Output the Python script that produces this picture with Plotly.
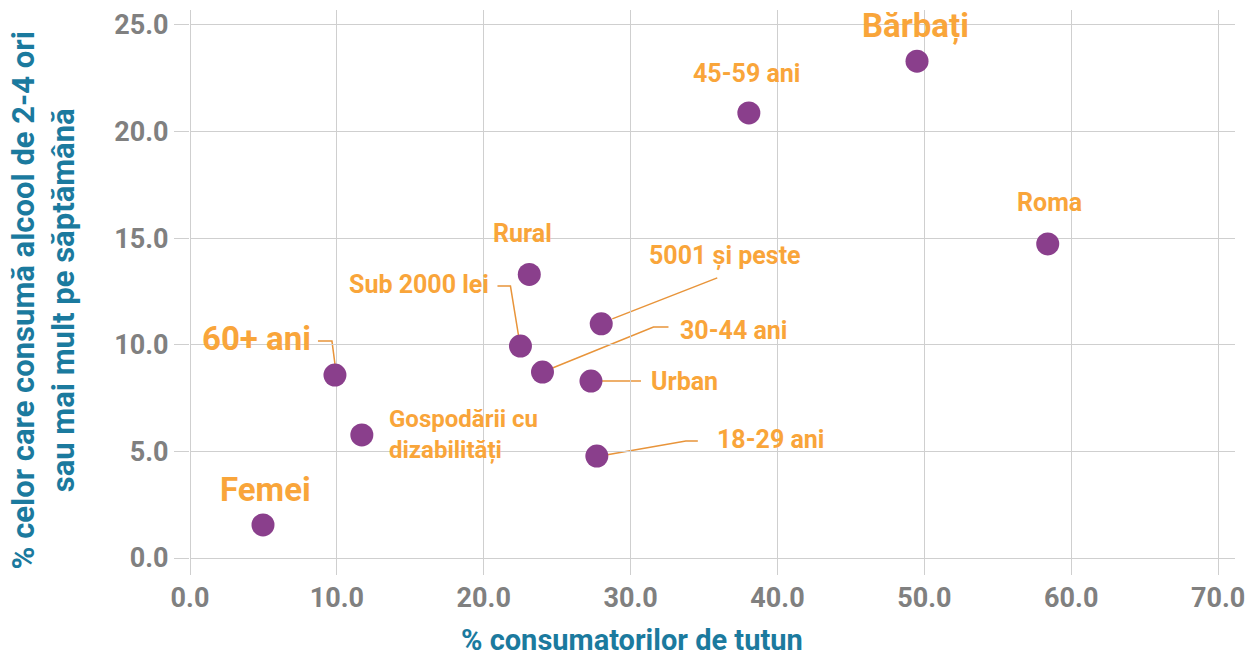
import plotly.graph_objects as go

# Data
labels = ["Femei", "60+ ani", "Gospodării cu<br>dizabilități", "Sub 2000 lei", "Rural",
          "30-44 ani", "Urban", "18-29 ani", "5001 și peste", "45-59 ani", "Bărbați", "Roma"]
tutun = [4.97, 9.87, 11.7, 22.5, 23.1, 24.0, 27.3, 27.7, 28.0, 38.05, 49.5, 58.4]
alcool = [1.55, 8.58, 5.77, 9.94, 13.3, 8.72, 8.30, 4.78, 10.98, 20.87, 23.3, 14.73]

x_ticks = [0, 10, 20, 30, 40, 50, 60, 70]
y_ticks = [0, 5, 10, 15, 20, 25]

x_title = "% consumatorilor de tutun"
y_title = "% celor care consumă alcool de 2-4 ori<br>sau mai mult pe săptămână"

# Label styling: (font size, xanchor, xshift, yshift)
label_style = {
    "Femei": (33, "center", 2, 35),
    "60+ ani": (33, "right", -22, 37),
    "Gospodării cu<br>dizabilități": (24, "left", 25, 0),
    "Sub 2000 lei": (25, "right", -29, 62),
    "Rural": (25, "center", -7, 41),
    "30-44 ani": (25, "left", 136, 42),
    "Urban": (25, "left", 58, 0),
    "18-29 ani": (25, "left", 118, 17),
    "5001 și peste": (25, "left", 46, 68),
    "45-59 ani": (25, "center", -2, 39),
    "Bărbați": (33, "center", -2, 36),
    "Roma": (25, "center", 2, 41),
}

# Leader line paths, pixel offsets relative to the point (y up)
leaders = {
    "60+ ani": [(-17, 34), (-3, 34), (0, 11)],
    "Sub 2000 lei": [(-23, 60), (-10, 60), (-2, 11)],
    "5001 și peste": [(11, 5), (116, 46)],
    "30-44 ani": [(10, 4), (111, 45), (126, 45)],
    "Urban": [(11, 0), (50, 0)],
    "18-29 ani": [(9, 1), (89, 15), (101, 15)],
}

ORANGE = "#F9A53A"
LINE = "#E8943A"
PURPLE = "#8A3F8C"
TEAL = "#1B7A9E"
GRID = "#cfcfcf"
FONT = "Roboto"

fig = go.Figure()
fig.add_trace(go.Scatter(
    x=tutun, y=alcool, mode="markers",
    marker=dict(size=23, color=PURPLE, line=dict(width=0)),
    hoverinfo="skip", showlegend=False,
))

for lab, xv, yv in zip(labels, tutun, alcool):
    size, xa, xs, ys = label_style[lab]
    fig.add_annotation(
        x=xv, y=yv, xref="x", yref="y", text="<b>" + lab + "</b>",
        showarrow=False, xanchor=xa, yanchor="middle", xshift=xs, yshift=ys,
        align="left", font=dict(family=FONT, size=size, color=ORANGE),
    )
    if lab in leaders:
        pts = leaders[lab]
        path = "M" + " L".join(f"{px},{py}" for px, py in pts)
        fig.add_shape(
            type="path", path=path, xref="x", yref="y",
            xsizemode="pixel", ysizemode="pixel", xanchor=xv, yanchor=yv,
            line=dict(color=LINE, width=1.5), layer="below",
        )

# Axis titles as annotations for exact placement
fig.add_annotation(
    xref="paper", yref="paper", x=0.423, y=0, yshift=-82, xanchor="center", yanchor="middle",
    text="<b>" + x_title + "</b>", showarrow=False,
    font=dict(family=FONT, size=29, color=TEAL),
)
fig.add_annotation(
    xref="paper", yref="paper", x=0, y=0.47, xshift=-147, xanchor="center", yanchor="middle",
    text="<b>" + y_title + "</b>", showarrow=False, textangle=-90,
    font=dict(family=FONT, size=31, color=TEAL),
)

fig.update_layout(
    width=1249, height=657,
    margin=dict(l=190, r=14, t=10, b=99),
    plot_bgcolor="white", paper_bgcolor="white",
    font=dict(family=FONT),
    xaxis=dict(
        range=[0, 71.15], tickvals=x_ticks, ticktext=[f"{v:.1f}" for v in x_ticks],
        showgrid=True, gridcolor=GRID, gridwidth=1, zeroline=True, zerolinecolor=GRID, zerolinewidth=1,
        ticks="outside", ticklen=16, tickcolor=GRID, showline=False, automargin=False,
        tickfont=dict(family=FONT, size=27, color="#808080", weight="bold"),
    ),
    yaxis=dict(
        range=[0, 25.7], tickvals=y_ticks, ticktext=[f"{v:.1f}" for v in y_ticks],
        showgrid=True, gridcolor=GRID, gridwidth=1, zeroline=True, zerolinecolor=GRID, zerolinewidth=1,
        ticks="outside", ticklen=15, tickcolor=GRID, showline=False, automargin=False,
        tickfont=dict(family=FONT, size=27, color="#808080", weight="bold"),
    ),
)

fig.write_html("out.html", config={"displayModeBar": False},
               post_script="document.body.style.margin='0px';document.body.style.overflow='hidden';")
